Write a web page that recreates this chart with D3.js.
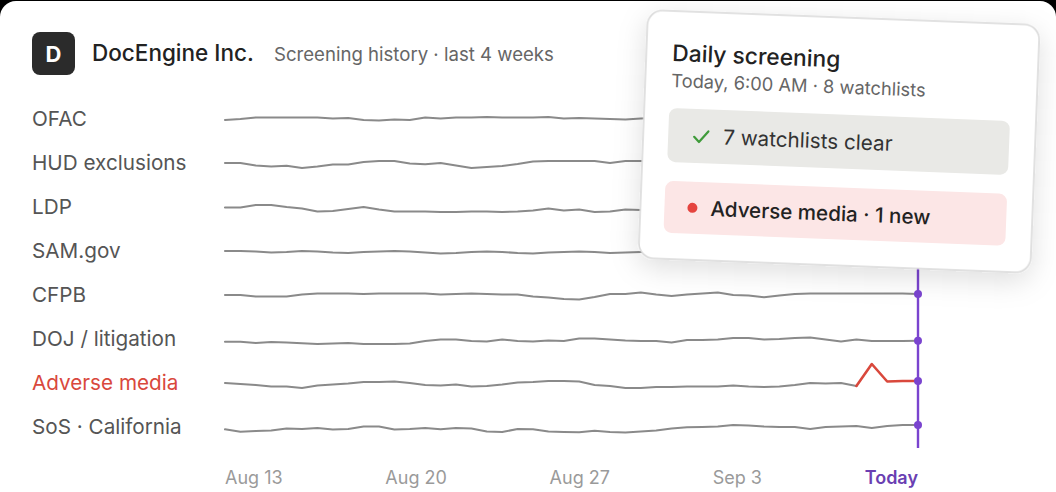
<!DOCTYPE html>
<html><head><meta charset="utf-8">
<script src="https://cdn.jsdelivr.net/npm/d3@7/dist/d3.min.js"></script>
<style>
html,body{margin:0;padding:0;background:#000;}
svg{display:block;font-family:Inter,"Noto Sans",sans-serif;}
</style></head><body>
<svg id="c" width="1056" height="492"></svg>
<script>
// ---------- data ----------
const categories = ["OFAC","HUD exclusions","LDP","SAM.gov","CFPB","DOJ / litigation","Adverse media","SoS · California"];
const ofac   = [-1,0,1.5,1.5,1.5,1.5,1.5,0.5,1,-1,-1.5,-0.5,-1,1.5,0.5,1.5,1.5,2,1.5,1.5,1.5,2,0.5,1,0.5,0,-0.5,0.5,1,1.5,1,0.5,1,1.5,1,0.5,0,0.5,1,1.5,1,0.5,1,1,0.5,1];
const hud    = [0,0,-2.5,-3.5,-2.7,-5,-3.5,-1.5,-1.5,1,2,2,-0.5,-1.3,0,-2.5,-5,-4,-3,-1,1.5,2,2,2,2,0,2,2,1.5,1,0.5,1,1.5,2,1.5,1,0,0.5,1,1.5,1,0.5,1,1.5,1,1];
const ldp    = [-0.5,-0.5,2,2,0,-1.5,-4.5,-4,-2,0,-2.5,-4.5,-4.5,-4.5,-5,-5,-4.5,-4.5,-5,-4.5,-3.5,-1.5,-3.5,-2.5,-5,-4.5,-2.5,-3,-2.5,-2,-2.5,-3,-2.5,-2,-1.5,-2,-2.5,-2,-1.5,-2,-2.5,-2,-1.5,-2,-2,-2];
const sam    = [0,0,-0.5,-1.5,-1,0,-0.5,-1.5,-2,-1,-0.5,0,-0.5,-1.5,-2.5,-2,-1,-0.5,-1,-2,-2.5,-1.5,-1,-0.5,-1,-2,-1.5,-1,-1,-1.5,-2,-1.5,-1,-0.5,-1,-1.5,-2,-1.5,-1,-1,-1.5,-1,-0.5,-1,-1,-1];
const cfpb   = [0,0,-1.5,-1.5,-1.5,0.5,1.5,1.5,1.5,1,1.5,1.5,1.5,1.5,0.5,1,1.5,1,0.5,0.5,-1.5,-2.5,-4,-4.5,-2,1,1,2.5,0.5,-1,0.5,1.5,2.5,0,-0.5,-2.3,-0.5,1,1.5,1.5,1.5,1.5,1.5,1.5,1.5,1];
const doj    = [-2.7,-2.7,-4,-3,-3.5,-4.3,-5,-4.5,-4,-5,-5,-5,-4.5,-2,-0.5,-0.5,-2,-2.5,-0.5,-2,-2.5,-1.5,-2,0.5,0.5,-0.5,-1.5,-2,-2,-3.5,-1,-1,-0.5,1,1,-0.5,0,1,1.5,-0.5,-2.5,-0.5,-2,-2,-2,-1.7];
const adverse= [0,-1,-2,-3.5,-3.5,-5,-2.5,-1.5,-0.5,1,1,1.5,0,-2,-2.5,-1.5,-3.5,-3,-1.5,0.5,1,2,2,1.5,-2,-3,-5,-5,-4,-4,-3.5,-3.5,-3.5,-2.5,-3.5,-4,-3.5,-2,0,-0.5,0,-3,19,1.5,2,2];
const sos    = [-2.3,-4.7,-4,-3.5,-1.5,-2,-1,-2.5,-2,0.5,0.5,-2.5,-2,-1,-2.3,-1,-1.5,-4.5,-5,-2,-2.3,-4.5,-5,-5.3,-3.7,-5,-5.5,-4.5,-3.5,-1.5,-0.3,0,0.5,2,1.5,0.5,0,0,-2,0,0.5,1,-1,1,2,2];
const seriesValues = [ofac,hud,ldp,sam,cfpb,doj,adverse,sos];
const alertRow = "Adverse media";
const alertStartIndex = 41;
const todayMarkedRows = ["CFPB","DOJ / litigation","Adverse media","SoS · California"];
const tickLabels = ["Aug 13","Aug 20","Aug 27","Sep 3","Today"];
const headerTitle = "DocEngine Inc.";
const headerSub = "Screening history · last 4 weeks";
const popupTitle = "Daily screening";
const popupSub = "Today, 6:00 AM · 8 watchlists";
const clearText = "7 watchlists clear";
const alertText = "Adverse media · 1 new";

// ---------- drawing ----------
const svg = d3.select("#c");
const W = 1056, H = 492;
const GRAY = "#8a8a8a", RED = "#d9483c", PURPLE = "#7a44cf";

const defs = svg.append("defs");
const f = defs.append("filter").attr("id","sh").attr("x","-20%").attr("y","-20%").attr("width","140%").attr("height","150%");
f.append("feDropShadow").attr("dx",0).attr("dy",8).attr("stdDeviation",14).attr("flood-color","#000").attr("flood-opacity",0.13);

svg.append("rect").attr("width",W).attr("height",H).attr("fill","#000");
svg.append("rect").attr("x",0).attr("y",1).attr("width",W).attr("height",H+40).attr("rx",16).attr("fill","#fff");

// header
svg.append("rect").attr("x",32).attr("y",32).attr("width",43).attr("height",43).attr("rx",8).attr("fill","#2b2b2b");
svg.append("text").attr("x",53.5).attr("y",54).attr("dy","0.36em").attr("text-anchor","middle")
  .attr("fill","#fff").attr("font-size",22).attr("font-weight",700).text("D");
svg.append("text").attr("x",92).attr("y",61).attr("fill","#222").attr("font-size",22.5).attr("font-weight",500).text(headerTitle);
svg.append("text").attr("x",274).attr("y",61).attr("fill","#666").attr("font-size",18.6).text(headerSub);

// scales
const nPts = ofac.length;
const x = d3.scaleLinear().domain([0, nPts-1]).range([225, 918]);
const row = d3.scalePoint().domain(categories).range([119, 427]);
const off = d3.scaleLinear().domain([-10, 10]).range([10, -10]);

// row labels
svg.append("g").selectAll("text").data(categories).join("text")
  .attr("x",32).attr("y",d=>row(d)).attr("dy","0.35em")
  .attr("font-size",20.7).attr("fill",d=>d===alertRow?RED:"#555")
  .text(d=>d);

// lines
const lineGen = (cat) => d3.line().x(d=>x(d.i)).y(d=>row(cat)+off(d.v)).curve(d3.curveLinear);
const lg = svg.append("g").attr("fill","none").attr("stroke-linejoin","round").attr("stroke-linecap","round");
categories.forEach((cat,k)=>{
  const pts = seriesValues[k].map((v,i)=>({i,v}));
  if (cat === alertRow) {
    lg.append("path").attr("d", lineGen(cat)(pts.slice(0, alertStartIndex+1))).attr("stroke",GRAY).attr("stroke-width",2.1);
    lg.append("path").attr("d", lineGen(cat)(pts.slice(alertStartIndex))).attr("stroke",RED).attr("stroke-width",2.6);
  } else {
    lg.append("path").attr("d", lineGen(cat)(pts)).attr("stroke",GRAY).attr("stroke-width",2.1);
  }
});

// today marker
svg.append("line").attr("x1",x(nPts-1)).attr("x2",x(nPts-1)).attr("y1",row(categories[0])-12).attr("y2",448)
  .attr("stroke",PURPLE).attr("stroke-width",2.4);
svg.append("g").selectAll("circle").data(todayMarkedRows).join("circle")
  .attr("cx",x(nPts-1)).attr("cy",d=>row(d)+off(seriesValues[categories.indexOf(d)][nPts-1])).attr("r",4).attr("fill",PURPLE);

// x tick labels (spread between first and last point)
const tg = svg.append("g");
const tt = tg.selectAll("text").data(tickLabels).join("text")
  .attr("y",478).attr("dy","0.35em").attr("font-size",18)
  .attr("fill",d=>d==="Today"?"#6a3fb2":"#9a9a9a").attr("font-weight",d=>d==="Today"?600:400)
  .text(d=>d);
const widths = []; tt.each(function(){ widths.push(this.getComputedTextLength()); });
const x0 = x.range()[0], x1 = x.range()[1];
const gap = ((x1-x0) - d3.sum(widths)) / (tickLabels.length-1);
let cur = x0;
tt.each(function(d,i){ d3.select(this).attr("x", cur); cur += widths[i] + gap; });

// popup
const pg = svg.append("g").attr("transform","translate(648,10) rotate(2.2)");
pg.append("rect").attr("width",392).attr("height",248).attr("rx",15).attr("fill","#fff")
  .attr("stroke","#d9d9d9").attr("stroke-width",1.5).attr("filter","url(#sh)");
pg.append("text").attr("x",26).attr("y",50).attr("font-size",22.8).attr("font-weight",500).attr("fill","#222").text(popupTitle);
pg.append("text").attr("x",26).attr("y",76).attr("font-size",18.3).attr("fill","#666").text(popupSub);
pg.append("rect").attr("x",25).attr("y",97).attr("width",341).attr("height",54).attr("rx",8).attr("fill","#e9e9e6");
pg.append("path").attr("d","M51,125 L56,130 L65,119").attr("fill","none").attr("stroke","#3f9b3a").attr("stroke-width",2.2)
  .attr("stroke-linecap","round").attr("stroke-linejoin","round");
pg.append("text").attr("x",80).attr("y",124).attr("dy","0.36em").attr("font-size",20.7).attr("fill","#333").text(clearText);
pg.append("rect").attr("x",24).attr("y",170).attr("width",342).attr("height",52).attr("rx",8).attr("fill","#fce6e6");
pg.append("circle").attr("cx",52).attr("cy",196).attr("r",5).attr("fill","#e5443f");
pg.append("text").attr("x",70).attr("y",196).attr("dy","0.36em").attr("font-size",20.6).attr("font-weight",500).attr("fill","#222").text(alertText);
</script></body></html>
